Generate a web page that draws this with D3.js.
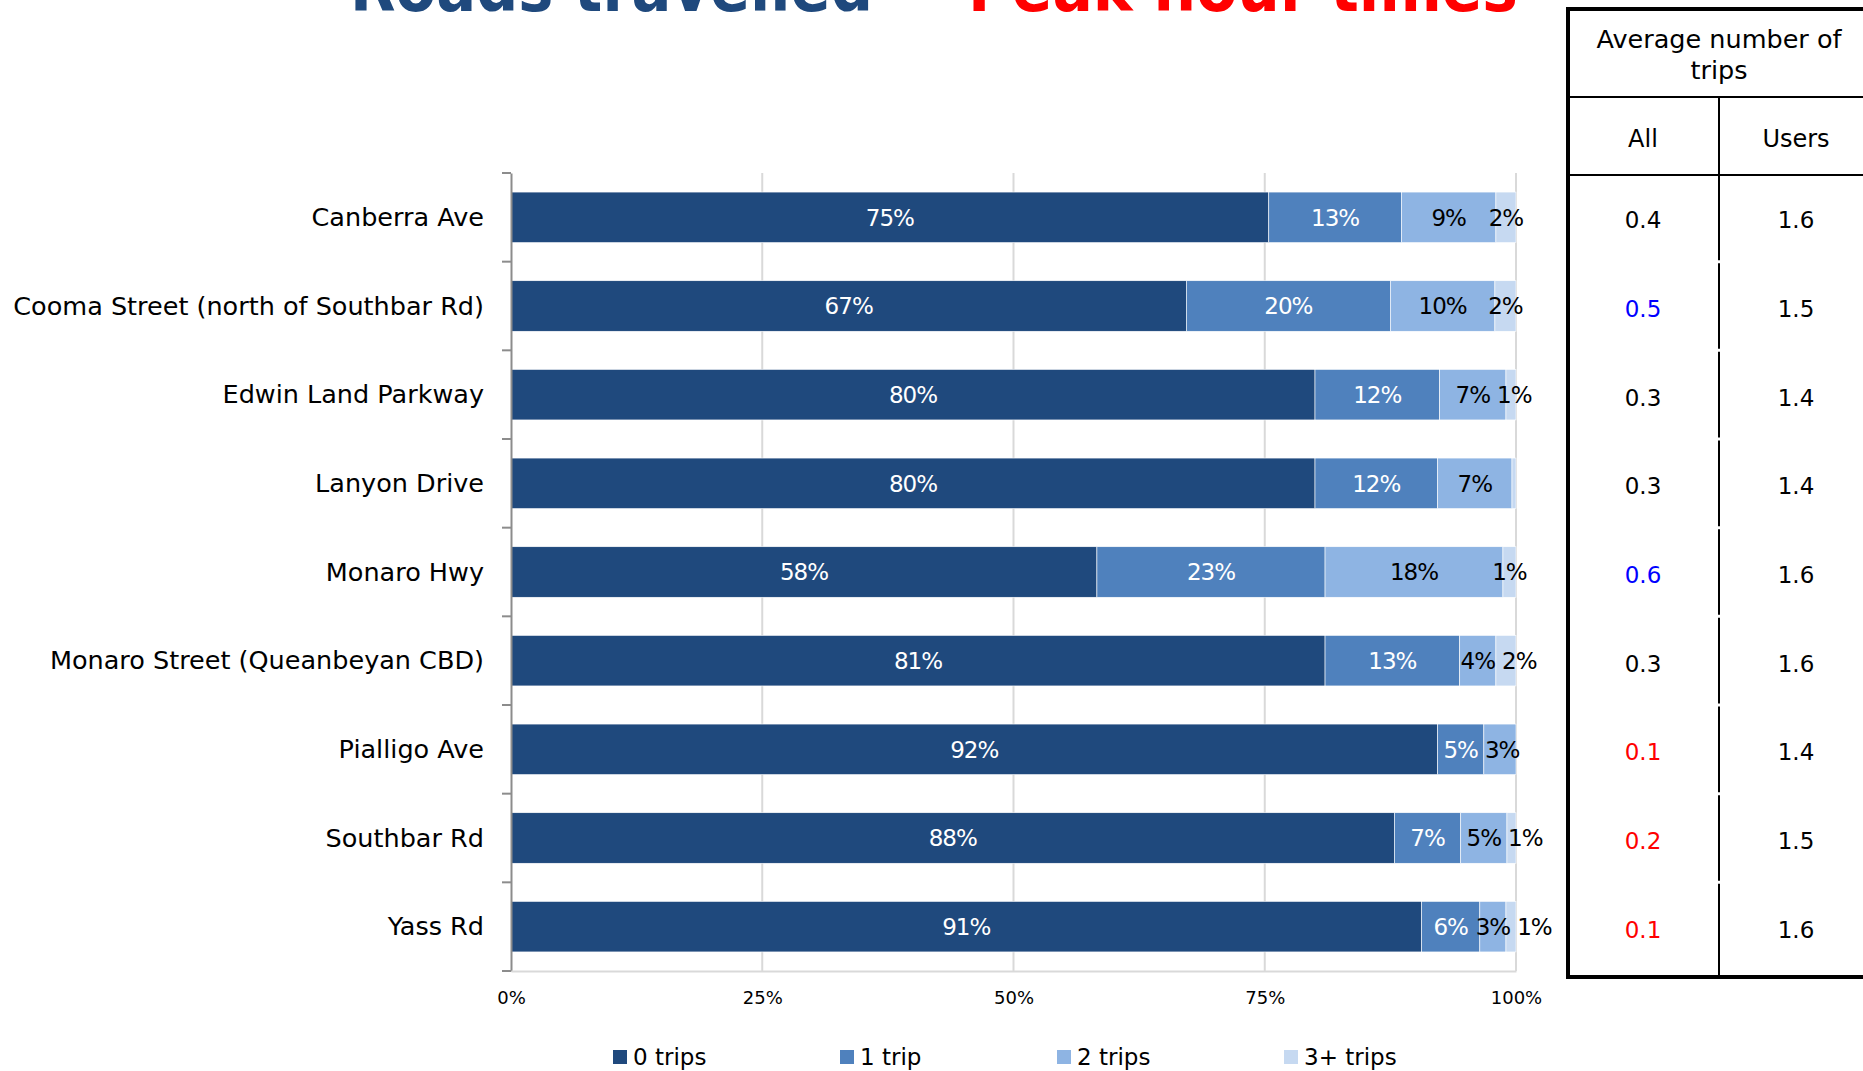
<!DOCTYPE html>
<html>
<head>
<meta charset="utf-8">
<script src="https://cdn.jsdelivr.net/npm/d3@7"></script>
<style>
  html, body { margin: 0; padding: 0; background: #ffffff; }
  svg { display: block; }
  text { font-family: "DejaVu Sans", "Noto Sans", sans-serif; }
</style>
</head>
<body>
<svg id="chart" width="1863" height="1071"></svg>
<script>
// Roads travelled at peak hour: share of respondents by number of trips
const roads = [
  "Canberra Ave",
  "Cooma Street (north of Southbar Rd)",
  "Edwin Land Parkway",
  "Lanyon Drive",
  "Monaro Hwy",
  "Monaro Street (Queanbeyan CBD)",
  "Pialligo Ave",
  "Southbar Rd",
  "Yass Rd"
];
const seriesNames = ["0 trips", "1 trip", "2 trips", "3+ trips"];
const zeroTrips  = [75.4, 67.2, 80.0, 80.0, 58.3, 81.0, 92.2, 87.9, 90.6];
const oneTrip    = [13.2, 20.3, 12.4, 12.2, 22.7, 13.4, 4.6, 6.6, 5.8];
const twoTrips   = [9.4, 10.4, 6.6, 7.4, 17.7, 3.6, 3.2, 4.6, 2.6];
const threePlus  = [2.0, 2.1, 1.0, 0.4, 1.3, 2.0, 0.0, 0.9, 1.0];
const xTicks = [0, 25, 50, 75, 100];

// Average number of trips (table beside the chart)
const avgAll   = [0.4, 0.5, 0.3, 0.3, 0.6, 0.3, 0.1, 0.2, 0.1];
const avgUsers = [1.6, 1.5, 1.4, 1.4, 1.6, 1.6, 1.4, 1.5, 1.6];

const seriesColors = ["#1f497d", "#4f81bd", "#8eb4e3", "#c6d9f1"];
const labelColors  = ["#ffffff", "#ffffff", "#000000", "#000000"];

const svg = d3.select("#chart");

const rows = roads.map((road, i) => ({
  road,
  "0 trips": zeroTrips[i],
  "1 trip": oneTrip[i],
  "2 trips": twoTrips[i],
  "3+ trips": threePlus[i]
}));

const x = d3.scaleLinear().domain([0, 100]).range([511, 1516]);
const y = d3.scaleBand().domain(roads).range([173, 971]).paddingInner(0.43).paddingOuter(0.215);
const yRow = d3.scaleBand().domain(roads).range([173, 971]);
const color = d3.scaleOrdinal().domain(seriesNames).range(seriesColors);

// Title
const titleG = svg.append("g").attr("font-weight", "bold").attr("font-size", 68);
titleG.append("text").attr("x", 350).attr("y", 11)
  .attr("textLength", 523).attr("lengthAdjust", "spacingAndGlyphs")
  .attr("fill", "#1f497d").text("Roads travelled");
titleG.append("text").attr("x", 968).attr("y", 11)
  .attr("textLength", 550).attr("lengthAdjust", "spacingAndGlyphs")
  .attr("fill", "#ff0000").text("Peak hour times");

// Vertical gridlines
svg.append("g").selectAll("line").data(xTicks.slice(1)).join("line")
  .attr("x1", d => x(d)).attr("x2", d => x(d))
  .attr("y1", 173).attr("y2", 971)
  .attr("stroke", "#d9d9d9").attr("stroke-width", 2);

// Stacked bars
const stacked = d3.stack().keys(seriesNames)(rows);
const layers = svg.append("g").selectAll("g").data(stacked).join("g")
  .attr("fill", d => color(d.key));
layers.selectAll("rect").data(d => d).join("rect")
  .attr("x", d => x(d[0]))
  .attr("y", d => y(d.data.road))
  .attr("width", d => Math.max(0, x(d[1]) - x(d[0])))
  .attr("height", y.bandwidth())
  .attr("stroke", "#ffffff").attr("stroke-width", 0.6);

// Data labels, centred in each segment
const labelG = svg.append("g").attr("font-size", 23).attr("text-anchor", "middle")
  .attr("letter-spacing", "-1px");
const labelItems = [];
stacked.forEach((layer, si) => {
  layer.forEach((seg, ri) => {
    const v = Math.round(seg[1] - seg[0]);
    if (v > 0) labelItems.push({ si, ri, seg, v });
  });
});
const labels = labelG.selectAll("text").data(labelItems).join("text")
  .attr("fill", d => labelColors[d.si])
  .attr("x", d => (x(d.seg[0]) + x(d.seg[1])) / 2)
  .attr("y", d => y(d.seg.data.road) + y.bandwidth() / 2)
  .attr("dy", "0.36em")
  .text(d => d.v + "%");

// push crowded labels to the right so neighbours in a bar stay readable
const minGap = 7;
d3.group(labels.nodes(), n => d3.select(n).datum().ri).forEach(nodes => {
  nodes.sort((a, b) => d3.select(a).datum().si - d3.select(b).datum().si);
  let prevRight = -Infinity;
  nodes.forEach(n => {
    const w = n.getComputedTextLength();
    let cx = +n.getAttribute("x");
    if (cx - w / 2 < prevRight + minGap) cx = prevRight + minGap + w / 2;
    n.setAttribute("x", cx);
    prevRight = cx + w / 2;
  });
});

// Category axis
const yAxis = svg.append("g").attr("transform", "translate(511,0)")
  .call(d3.axisLeft(yRow).tickSize(0).tickPadding(27));
yAxis.select(".domain").attr("stroke", "#8c8c8c").attr("stroke-width", 2);
yAxis.selectAll("text").attr("font-size", 25.5).attr("fill", "#000").attr("font-family", "DejaVu Sans").attr("dy", "0.34em");
// boundary ticks between categories
yAxis.append("g").selectAll("line")
  .data(d3.range(roads.length + 1))
  .join("line")
  .attr("x1", -9).attr("x2", 0)
  .attr("y1", i => 173 + i * yRow.step()).attr("y2", i => 173 + i * yRow.step())
  .attr("stroke", "#8c8c8c").attr("stroke-width", 2);

// Percentage axis
const xAxis = svg.append("g").attr("transform", "translate(0,971)")
  .call(d3.axisBottom(x).tickValues(xTicks).tickSize(0).tickPadding(20).tickFormat(d => d + "%"));
xAxis.select(".domain").attr("stroke", "#d9d9d9").attr("stroke-width", 2);
xAxis.selectAll("text").attr("font-size", 18).attr("fill", "#000").attr("font-family", "DejaVu Sans");

// Legend
const legend = svg.append("g").attr("transform", "translate(613,1050)")
  .selectAll("g").data(seriesNames).join("g")
  .attr("transform", (d, i) => `translate(${[0, 227, 444, 671][i]},0)`);
legend.append("rect").attr("width", 14).attr("height", 14).attr("fill", d => color(d));
legend.append("text").attr("x", 20).attr("y", 7).attr("dy", "0.36em")
  .attr("font-size", 23).attr("fill", "#000").text(d => d);

// Table of average trips
const table = svg.append("g");
const colAll = 1643, colUsers = 1796, colDiv = 1719;
const tLeft = 1568, tTop = 9, tBottom = 977;
table.append("text").attr("x", 1719).attr("y", 39).attr("dy", "0.35em")
  .attr("text-anchor", "middle").attr("font-size", 25.5).text("Average number of");
table.append("text").attr("x", 1719).attr("y", 70).attr("dy", "0.35em")
  .attr("text-anchor", "middle").attr("font-size", 25.5).text("trips");
table.append("text").attr("x", colAll).attr("y", 139).attr("dy", "0.35em")
  .attr("text-anchor", "middle").attr("font-size", 24).text("All");
table.append("text").attr("x", colUsers).attr("y", 139).attr("dy", "0.35em")
  .attr("text-anchor", "middle").attr("font-size", 24).text("Users");

// header rules
table.selectAll("line.h").data([97, 175]).join("line").attr("class", "h")
  .attr("x1", tLeft).attr("x2", 1863).attr("y1", d => d).attr("y2", d => d)
  .attr("stroke", "#000").attr("stroke-width", 2);
// column divider, broken at each row boundary
table.append("line").attr("x1", colDiv).attr("x2", colDiv).attr("y1", 97).attr("y2", 175)
  .attr("stroke", "#000").attr("stroke-width", 2);
table.selectAll("line.c").data(roads).join("line").attr("class", "c")
  .attr("x1", colDiv).attr("x2", colDiv)
  .attr("y1", (d, i) => i === 0 ? 175 : yRow(d) + 1.5)
  .attr("y2", (d, i) => i === roads.length - 1 ? tBottom : yRow(d) + yRow.bandwidth() - 1.5)
  .attr("stroke", "#000").attr("stroke-width", 2);
// outer border
table.append("path")
  .attr("d", `M1863,${tTop} H${tLeft} V${tBottom} H1863`)
  .attr("fill", "none").attr("stroke", "#000").attr("stroke-width", 4);

const allColor = v => v >= 0.5 ? "#0000ff" : v <= 0.2 ? "#ff0000" : "#000000";
table.selectAll("text.all").data(avgAll).join("text").attr("class", "all")
  .attr("x", colAll).attr("y", (d, i) => yRow(roads[i]) + yRow.bandwidth() / 2 + 3)
  .attr("dy", "0.35em").attr("text-anchor", "middle").attr("font-size", 23)
  .attr("fill", d => allColor(d)).text(d => d.toFixed(1));
table.selectAll("text.users").data(avgUsers).join("text").attr("class", "users")
  .attr("x", colUsers).attr("y", (d, i) => yRow(roads[i]) + yRow.bandwidth() / 2 + 3)
  .attr("dy", "0.35em").attr("text-anchor", "middle").attr("font-size", 23)
  .attr("fill", "#000").text(d => d.toFixed(1));
</script>
</body>
</html>
